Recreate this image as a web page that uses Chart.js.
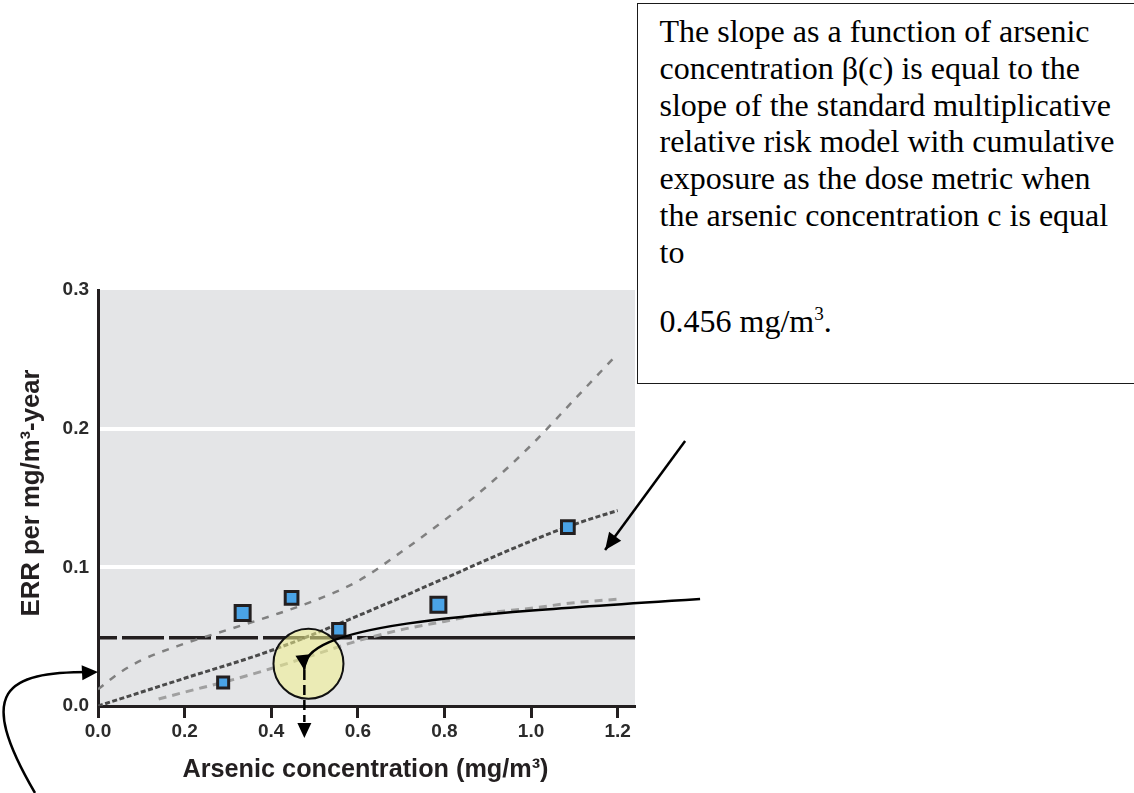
<!DOCTYPE html>
<html>
<head>
<meta charset="utf-8">
<title>ERR per mg/m3-year vs arsenic concentration</title>
<script src="https://cdn.jsdelivr.net/npm/chart.js@4.4.1/dist/chart.umd.min.js"></script>
<style>
  html, body { margin: 0; padding: 0; background: #fff; }
  #wrap { position: relative; width: 1134px; height: 793px; overflow: hidden; }
  #errChart { position: absolute; left: 0; top: 0; }
  #note {
    position: absolute; left: 637px; top: 3px; width: 520px; height: 381px;
    box-sizing: border-box; border: 1.5px solid #1a1a1a; background: #fff;
    padding: 9px 0 0 21.5px;
    font-family: 'Liberation Serif', 'Times New Roman', serif;
    font-size: 32px; line-height: 36.8px; color: #000; white-space: nowrap;
  }
  #note p { margin: 0; }
  #note p + p { margin-top: 32.4px; }
  #note sup { font-size: 0.6em; line-height: 0; vertical-align: 0.62em; }
</style>
</head>
<body>
<div id="wrap">
  <canvas id="errChart" width="1134" height="793"></canvas>
  <div id="note">
    <p>The slope as a function of arsenic<br>concentration β(c) is equal to the<br>slope of the standard multiplicative<br>relative risk model with cumulative<br>exposure as the dose metric when<br>the arsenic concentration c is equal<br>to</p>
    <p>0.456 mg/m<sup>3</sup>.</p>
  </div>
</div>
<script>
// data lu dari gambar (perkiraan)
const concentration = [0.289, 0.334, 0.447, 0.556, 0.786, 1.085];
const errObserved = [0.017, 0.067, 0.078, 0.055, 0.073, 0.129];

const fitConc = [0, 0.2, 0.4, 0.6, 0.8, 1.0, 1.1, 1.2];
const fitErr = [0.000, 0.020, 0.040, 0.065, 0.092, 0.119, 0.131, 0.141];

const upperConc = [0, 0.05, 0.1, 0.2, 0.3, 0.4, 0.5, 0.6, 0.7, 0.8, 0.9, 1.0, 1.1, 1.2];
const upperErr = [0.012, 0.024, 0.033, 0.045, 0.055, 0.065, 0.076, 0.090, 0.111, 0.134, 0.159, 0.188, 0.221, 0.254];

const lowerConc = [0.14, 0.2, 0.3, 0.4, 0.5, 0.6, 0.7, 0.8, 0.9, 1.0, 1.1, 1.2];
const lowerErr = [0.005, 0.010, 0.018, 0.027, 0.037, 0.047, 0.055, 0.061, 0.067, 0.0705, 0.0745, 0.077];

const refErr = 0.0493;       // garis horizontal
const refDashedTo = 0.6;     // putus-putus sampai sini, lalu solid
const markerConc = 0.4765;   // panah vertikal ke sumbu x

const xTickValues = [0, 0.2, 0.4, 0.6, 0.8, 1.0, 1.2];
const yTickValues = [0, 0.1, 0.2, 0.3];
const xMax = 1.24;

const xTitle = 'Arsenic concentration (mg/m³)';
const yTitle = 'ERR per mg/m³-year';

const pts = (xs, ys) => xs.map((x, i) => ({ x: x, y: ys[i] }));

const ink = '#231f20';
const tickFont = { family: "'Liberation Sans', Arial, sans-serif", size: 19, weight: 'bold' };

function drawFitted(ctx, text, x, y, width, angle) {
    ctx.save();
    ctx.translate(x, y);
    ctx.rotate(angle);
    const w = ctx.measureText(text).width;
    ctx.scale(width / w, 1);
    ctx.fillText(text, 0, 0);
    ctx.restore();
}

function arrowHead(ctx, tip, from, len, half) {
    const a = Math.atan2(tip.y - from.y, tip.x - from.x);
    const bx = tip.x - len * Math.cos(a), by = tip.y - len * Math.sin(a);
    ctx.beginPath();
    ctx.moveTo(tip.x, tip.y);
    ctx.lineTo(bx + half * Math.sin(a), by - half * Math.cos(a));
    ctx.lineTo(bx - half * Math.sin(a), by + half * Math.cos(a));
    ctx.closePath();
    ctx.fill();
}

const annotate = {
    id: 'annotate',
    beforeDraw(chart) {
        const { ctx, chartArea: a } = chart;
        ctx.save();
        ctx.fillStyle = '#e4e5e7';
        ctx.fillRect(a.left, a.top, a.right - a.left, a.bottom - a.top);
        ctx.restore();
    },
    beforeDatasetDraw(chart, args) {
        if (args.index !== 0) return;
        const { ctx, scales: { x, y } } = chart;
        ctx.save();
        ctx.beginPath();
        ctx.arc(x.getPixelForValue(0.486), y.getPixelForValue(0.0305), 35, 0, Math.PI * 2);
        ctx.fillStyle = 'rgba(240, 240, 140, 0.55)';
        ctx.fill();
        ctx.lineWidth = 2;
        ctx.strokeStyle = '#111';
        ctx.stroke();
        ctx.restore();
    },
    afterDraw(chart) {
        const { ctx, chartArea: a, scales: { x, y } } = chart;
        const P = (cx, cy) => ({ x: x.getPixelForValue(cx), y: y.getPixelForValue(cy) });
        ctx.save();
        ctx.strokeStyle = '#000';
        ctx.fillStyle = '#000';
        ctx.lineWidth = 2.5;

        // panah kurva ke dalam lingkaran
        const c0 = P(1.3903, 0.0772), c1 = P(0.8129, 0.0656), c2 = P(0.4665, 0.0584), c3 = P(markerConc, 0.026);
        ctx.beginPath();
        ctx.moveTo(c0.x, c0.y);
        ctx.bezierCurveTo(c1.x, c1.y, c2.x, c2.y, c3.x, c3.y);
        ctx.stroke();
        arrowHead(ctx, c3, c2, 15, 7.5);

        // garis vertikal putus-putus ke sumbu x
        const v0 = P(markerConc, 0.026), v1 = P(markerConc, -0.0115), vt = P(markerConc, -0.0231);
        ctx.setLineDash([10, 5]);
        ctx.beginPath();
        ctx.moveTo(v0.x, v0.y);
        ctx.lineTo(v1.x, v1.y);
        ctx.stroke();
        ctx.setLineDash([]);
        arrowHead(ctx, vt, v0, 15, 7);

        // panah kanan atas
        const u0 = P(1.3557, 0.1911), u1 = P(1.1709, 0.1125);
        ctx.beginPath();
        ctx.moveTo(u0.x, u0.y);
        ctx.lineTo(u1.x, u1.y);
        ctx.stroke();
        arrowHead(ctx, u1, u0, 17, 7.5);

        // panah kurva kiri bawah
        const b0 = P(-0.1455, -0.0627), b1 = P(-0.2841, 0.0115), b2 = P(-0.2148, 0.0245), b3 = P(0, 0.0245);
        ctx.beginPath();
        ctx.moveTo(b0.x, b0.y);
        ctx.bezierCurveTo(b1.x, b1.y, b2.x, b2.y, b3.x - 8, b3.y);
        ctx.stroke();
        arrowHead(ctx, b3, { x: b3.x - 20, y: b3.y + 1 }, 16, 7.5);

        // judul sumbu
        ctx.fillStyle = ink;
        ctx.font = "bold 25px 'Liberation Sans', Arial, sans-serif";
        ctx.textAlign = 'center';
        ctx.textBaseline = 'alphabetic';
        drawFitted(ctx, xTitle, (a.left + a.right) / 2 - 1, a.bottom + 71, 366, 0);
        drawFitted(ctx, yTitle, a.left - 59, (a.top + a.bottom) / 2 - 5, 247, -Math.PI / 2);
        ctx.restore();
    }
};

new Chart(document.getElementById('errChart'), {
    type: 'scatter',
    data: {
        datasets: [
            {
                label: 'Observed',
                data: pts(concentration, errObserved),
                pointStyle: 'rect',
                pointRadius: [7.8, 10.6, 9, 8.7, 10.6, 9],
                backgroundColor: '#4aa3e6',
                borderColor: ink,
                borderWidth: 3
            },
            {
                label: 'Fit',
                data: pts(fitConc, fitErr),
                showLine: true, pointRadius: 0,
                borderColor: '#4a4a4a', borderWidth: 3, borderDash: [5, 2.5],
                cubicInterpolationMode: 'monotone'
            },
            {
                label: 'Upper',
                data: pts(upperConc, upperErr),
                showLine: true, pointRadius: 0,
                borderColor: '#808080', borderWidth: 2.5, borderDash: [7, 8],
                cubicInterpolationMode: 'monotone'
            },
            {
                label: 'Lower',
                data: pts(lowerConc, lowerErr),
                showLine: true, pointRadius: 0,
                borderColor: '#a0a0a0', borderWidth: 3, borderDash: [8, 6],
                cubicInterpolationMode: 'monotone'
            },
            {
                label: 'Reference dashed',
                data: [{ x: 0, y: refErr }, { x: refDashedTo, y: refErr }],
                showLine: true, pointRadius: 0,
                borderColor: ink, borderWidth: 3.5, borderDash: [42, 5], borderDashOffset: 23
            },
            {
                label: 'Reference solid',
                data: [{ x: refDashedTo, y: refErr }, { x: xMax, y: refErr }],
                showLine: true, pointRadius: 0,
                borderColor: ink, borderWidth: 3.5
            }
        ]
    },
    options: {
        responsive: false,
        animation: false,
        devicePixelRatio: 1,
        events: [],
        layout: { padding: { top: 290, right: 499, left: 0, bottom: 0 } },
        plugins: { legend: { display: false }, tooltip: { enabled: false } },
        scales: {
            x: {
                type: 'linear', min: 0, max: xMax,
                afterBuildTicks: s => { s.ticks = xTickValues.map(v => ({ value: v })); },
                afterFit: s => { s.height = 87; },
                grid: { drawOnChartArea: false, tickLength: 12, tickWidth: 3, tickColor: ink },
                border: { color: ink, width: 3 },
                ticks: { padding: 2, color: '#2b2b2b', font: tickFont, maxRotation: 0, autoSkip: false,
                         callback: v => v.toFixed(1) }
            },
            y: {
                type: 'linear', min: 0, max: 0.3,
                afterBuildTicks: s => { s.ticks = yTickValues.map(v => ({ value: v })); },
                afterFit: s => { s.width = 98; },
                grid: {
                    drawTicks: false, lineWidth: 4,
                    color: c => (c.tick && c.tick.value > 0.001 && c.tick.value < 0.299) ? '#ffffff' : 'rgba(0,0,0,0)'
                },
                border: { color: ink, width: 3 },
                ticks: { padding: 9, color: '#2b2b2b', font: tickFont, callback: v => v.toFixed(1) }
            }
        }
    },
    plugins: [annotate]
});
</script>
</body>
</html>
